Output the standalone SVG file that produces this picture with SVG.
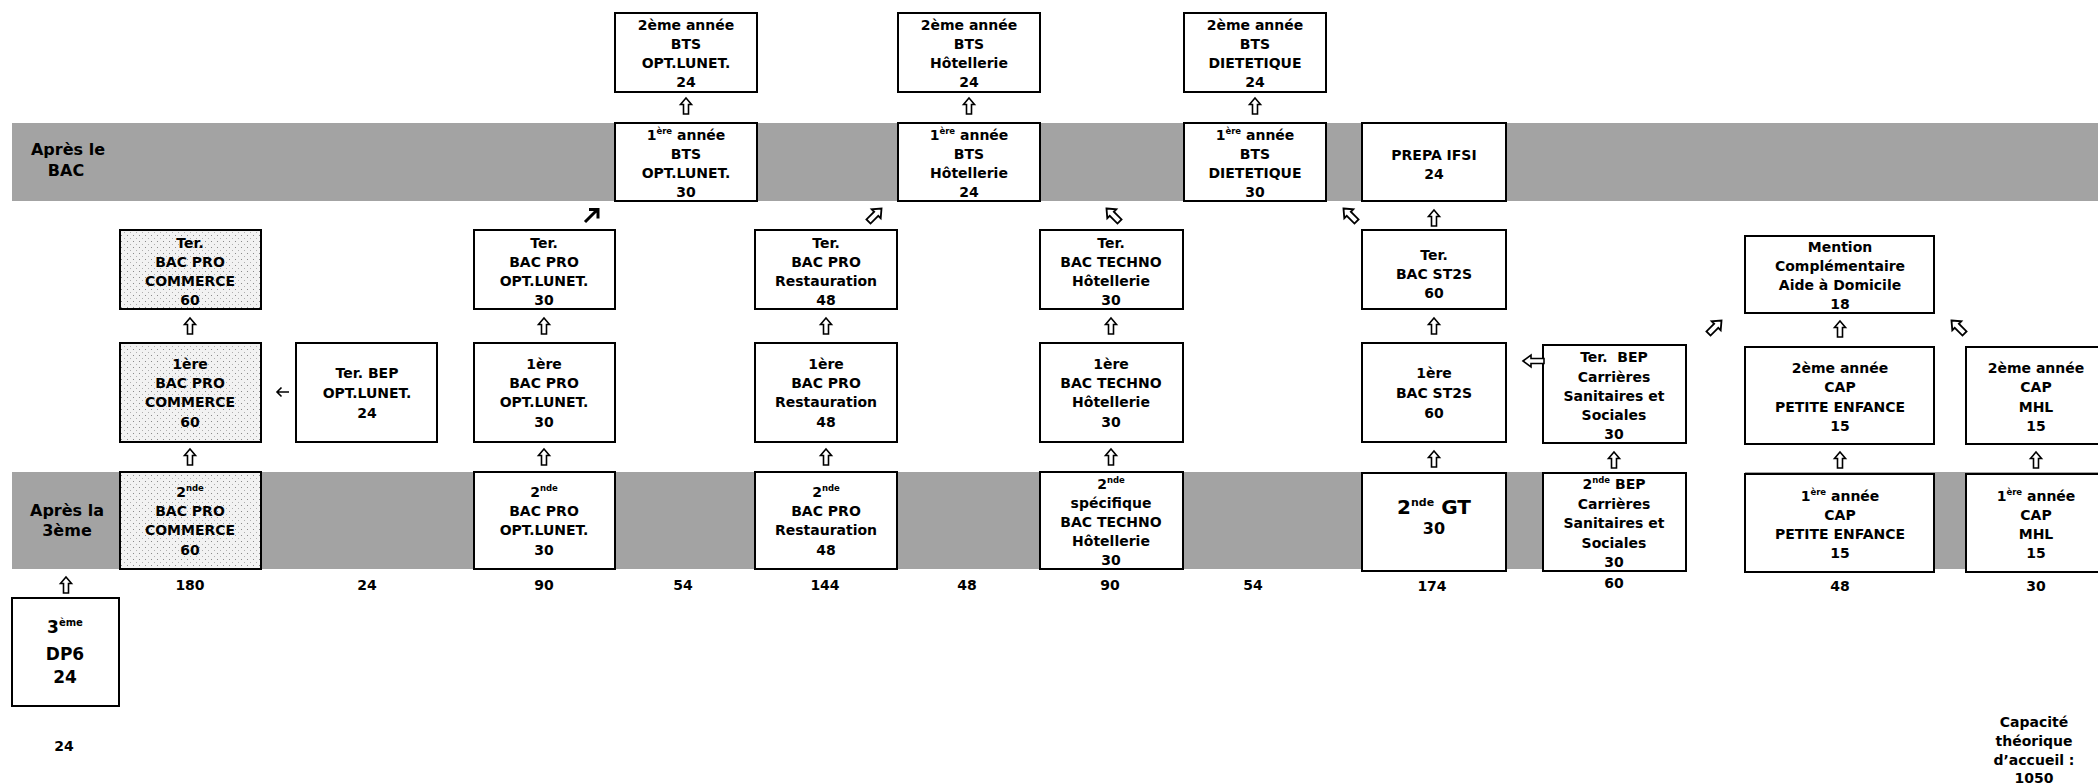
<svg xmlns="http://www.w3.org/2000/svg" width="2098" height="784" viewBox="0 0 2098 784">
<style>
text{font-family:"DejaVu Sans","Verdana",sans-serif;font-weight:bold;font-size:14px;fill:#000;text-anchor:middle}
.box{fill:#fff;stroke:#000;stroke-width:2}
.stip{fill:url(#stipple);stroke:#000;stroke-width:2}
.band{fill:#a3a3a3}
.sup{font-size:8.5px}
.big{font-size:17px}
.lbl{font-size:16px}
.harrow{fill:#fff;stroke:#000;stroke-width:1.6;stroke-linejoin:miter}
.thin{fill:none;stroke:#000;stroke-width:1.6}
.thick{fill:none;stroke:#000;stroke-width:3}
</style>
<defs>
<pattern id="stipple" width="6" height="6" patternUnits="userSpaceOnUse">
<rect width="6" height="6" fill="#f2f2f2"/>
<rect x="1" y="1" width="1" height="1" fill="#8a8a8a"/>
<rect x="4" y="4" width="1" height="1" fill="#b0b0b0"/>
</pattern>
<path id="up" class="harrow" d="M0,-8 L5.5,-1.5 L2.5,-1.5 L2.5,8 L-2.5,8 L-2.5,-1.5 L-5.5,-1.5 Z"/>
</defs>
<rect width="2098" height="784" fill="#fff"/>

<g id="bands">
<rect class="band" x="12" y="123" width="2086" height="78"/>
<rect class="band" x="12" y="472" width="1674" height="97"/>
<rect class="band" x="1745" y="472" width="353" height="97"/>
<text class="lbl" x="68" y="155">Après le</text>
<text class="lbl" x="66" y="176">BAC</text>
<text class="lbl" x="67" y="516">Après la</text>
<text class="lbl" x="67" y="536">3ème</text>
</g>

<g id="bts-opt-2">
<rect class="box" x="615" y="13" width="142" height="79"/>
<text><tspan x="686" y="30">2ème année</tspan><tspan x="686" y="49">BTS</tspan><tspan x="686" y="68">OPT.LUNET.</tspan><tspan x="686" y="87">24</tspan></text>
</g>
<g id="bts-hot-2">
<rect class="box" x="898" y="13" width="142" height="79"/>
<text><tspan x="969" y="30">2ème année</tspan><tspan x="969" y="49">BTS</tspan><tspan x="969" y="68">Hôtellerie</tspan><tspan x="969" y="87">24</tspan></text>
</g>
<g id="bts-diet-2">
<rect class="box" x="1184" y="13" width="142" height="79"/>
<text><tspan x="1255" y="30">2ème année</tspan><tspan x="1255" y="49">BTS</tspan><tspan x="1255" y="68">DIETETIQUE</tspan><tspan x="1255" y="87">24</tspan></text>
</g>

<g id="bts-opt-1">
<rect class="box" x="615" y="123" width="142" height="78"/>
<text x="686" y="140">1<tspan class="sup" dy="-6">ère</tspan><tspan dy="6"> année</tspan></text>
<text><tspan x="686" y="159">BTS</tspan><tspan x="686" y="178">OPT.LUNET.</tspan><tspan x="686" y="197">30</tspan></text>
</g>
<g id="bts-hot-1">
<rect class="box" x="898" y="123" width="142" height="78"/>
<text x="969" y="140">1<tspan class="sup" dy="-6">ère</tspan><tspan dy="6"> année</tspan></text>
<text><tspan x="969" y="159">BTS</tspan><tspan x="969" y="178">Hôtellerie</tspan><tspan x="969" y="197">24</tspan></text>
</g>
<g id="bts-diet-1">
<rect class="box" x="1184" y="123" width="142" height="78"/>
<text x="1255" y="140">1<tspan class="sup" dy="-6">ère</tspan><tspan dy="6"> année</tspan></text>
<text><tspan x="1255" y="159">BTS</tspan><tspan x="1255" y="178">DIETETIQUE</tspan><tspan x="1255" y="197">30</tspan></text>
</g>
<g id="prepa-ifsi">
<rect class="box" x="1362" y="123" width="144" height="78"/>
<text><tspan x="1434" y="160">PREPA IFSI</tspan><tspan x="1434" y="179">24</tspan></text>
</g>

<g id="ter-commerce">
<rect class="stip" x="120" y="230" width="141" height="79"/>
<text><tspan x="190" y="248">Ter.</tspan><tspan x="190" y="267">BAC PRO</tspan><tspan x="190" y="286">COMMERCE</tspan><tspan x="190" y="305">60</tspan></text>
</g>
<g id="ter-opt">
<rect class="box" x="474" y="230" width="141" height="79"/>
<text><tspan x="544" y="248">Ter.</tspan><tspan x="544" y="267">BAC PRO</tspan><tspan x="544" y="286">OPT.LUNET.</tspan><tspan x="544" y="305">30</tspan></text>
</g>
<g id="ter-resto">
<rect class="box" x="755" y="230" width="142" height="79"/>
<text><tspan x="826" y="248">Ter.</tspan><tspan x="826" y="267">BAC PRO</tspan><tspan x="826" y="286">Restauration</tspan><tspan x="826" y="305">48</tspan></text>
</g>
<g id="ter-techno">
<rect class="box" x="1040" y="230" width="143" height="79"/>
<text><tspan x="1111" y="248">Ter.</tspan><tspan x="1111" y="267">BAC TECHNO</tspan><tspan x="1111" y="286">Hôtellerie</tspan><tspan x="1111" y="305">30</tspan></text>
</g>
<g id="ter-st2s">
<rect class="box" x="1362" y="230" width="144" height="79"/>
<text><tspan x="1434" y="260">Ter.</tspan><tspan x="1434" y="279">BAC ST2S</tspan><tspan x="1434" y="298">60</tspan></text>
</g>
<g id="mention">
<rect class="box" x="1745" y="236" width="189" height="77"/>
<text><tspan x="1840" y="252">Mention</tspan><tspan x="1840" y="271">Complémentaire</tspan><tspan x="1840" y="290">Aide à Domicile</tspan><tspan x="1840" y="309">18</tspan></text>
</g>

<g id="pre-commerce">
<rect class="stip" x="120" y="343" width="141" height="99"/>
<text><tspan x="190" y="369">1ère</tspan><tspan x="190" y="388">BAC PRO</tspan><tspan x="190" y="407">COMMERCE</tspan><tspan x="190" y="427">60</tspan></text>
</g>
<g id="ter-bep-opt">
<rect class="box" x="296" y="343" width="141" height="99"/>
<text><tspan x="367" y="378">Ter. BEP</tspan><tspan x="367" y="398">OPT.LUNET.</tspan><tspan x="367" y="418">24</tspan></text>
</g>
<g id="pre-opt">
<rect class="box" x="474" y="343" width="141" height="99"/>
<text><tspan x="544" y="369">1ère</tspan><tspan x="544" y="388">BAC PRO</tspan><tspan x="544" y="407">OPT.LUNET.</tspan><tspan x="544" y="427">30</tspan></text>
</g>
<g id="pre-resto">
<rect class="box" x="755" y="343" width="142" height="99"/>
<text><tspan x="826" y="369">1ère</tspan><tspan x="826" y="388">BAC PRO</tspan><tspan x="826" y="407">Restauration</tspan><tspan x="826" y="427">48</tspan></text>
</g>
<g id="pre-techno">
<rect class="box" x="1040" y="343" width="143" height="99"/>
<text><tspan x="1111" y="369">1ère</tspan><tspan x="1111" y="388">BAC TECHNO</tspan><tspan x="1111" y="407">Hôtellerie</tspan><tspan x="1111" y="427">30</tspan></text>
</g>
<g id="pre-st2s">
<rect class="box" x="1362" y="343" width="144" height="99"/>
<text><tspan x="1434" y="378">1ère</tspan><tspan x="1434" y="398">BAC ST2S</tspan><tspan x="1434" y="418">60</tspan></text>
</g>
<g id="ter-bep-css">
<rect class="box" x="1543" y="345" width="143" height="98"/>
<text xml:space="preserve"><tspan x="1614" y="362">Ter.  BEP</tspan><tspan x="1614" y="382">Carrières</tspan><tspan x="1614" y="401">Sanitaires et</tspan><tspan x="1614" y="420">Sociales</tspan><tspan x="1614" y="439">30</tspan></text>
</g>
<g id="cap-pe-2">
<rect class="box" x="1745" y="347" width="189" height="97"/>
<text><tspan x="1840" y="373">2ème année</tspan><tspan x="1840" y="392">CAP</tspan><tspan x="1840" y="412">PETITE ENFANCE</tspan><tspan x="1840" y="431">15</tspan></text>
</g>
<g id="cap-mhl-2">
<rect class="box" x="1966" y="347" width="142" height="97"/>
<text><tspan x="2036" y="373">2ème année</tspan><tspan x="2036" y="392">CAP</tspan><tspan x="2036" y="412">MHL</tspan><tspan x="2036" y="431">15</tspan></text>
</g>

<g id="sec-commerce">
<rect class="stip" x="120" y="472" width="141" height="97"/>
<text x="190" y="497">2<tspan class="sup" dy="-6">nde</tspan></text>
<text><tspan x="190" y="516">BAC PRO</tspan><tspan x="190" y="535">COMMERCE</tspan><tspan x="190" y="555">60</tspan></text>
</g>
<g id="sec-opt">
<rect class="box" x="474" y="472" width="141" height="97"/>
<text x="544" y="497">2<tspan class="sup" dy="-6">nde</tspan></text>
<text><tspan x="544" y="516">BAC PRO</tspan><tspan x="544" y="535">OPT.LUNET.</tspan><tspan x="544" y="555">30</tspan></text>
</g>
<g id="sec-resto">
<rect class="box" x="755" y="472" width="142" height="97"/>
<text x="826" y="497">2<tspan class="sup" dy="-6">nde</tspan></text>
<text><tspan x="826" y="516">BAC PRO</tspan><tspan x="826" y="535">Restauration</tspan><tspan x="826" y="555">48</tspan></text>
</g>
<g id="sec-techno">
<rect class="box" x="1040" y="472" width="143" height="97"/>
<text x="1111" y="489">2<tspan class="sup" dy="-6">nde</tspan></text>
<text><tspan x="1111" y="508">spécifique</tspan><tspan x="1111" y="527">BAC TECHNO</tspan><tspan x="1111" y="546">Hôtellerie</tspan><tspan x="1111" y="565">30</tspan></text>
</g>
<g id="sec-gt">
<rect class="box" x="1362" y="473" width="144" height="98"/>
<text x="1434" y="514" style="font-size:20px">2<tspan style="font-size:11px" dy="-8">nde</tspan><tspan dy="8"> GT</tspan></text>
<text x="1434" y="534" style="font-size:16px">30</text>
</g>
<g id="sec-bep-css">
<rect class="box" x="1543" y="473" width="143" height="98"/>
<text x="1614" y="489">2<tspan class="sup" dy="-6">nde</tspan><tspan dy="6"> BEP</tspan></text>
<text><tspan x="1614" y="509">Carrières</tspan><tspan x="1614" y="528">Sanitaires et</tspan><tspan x="1614" y="548">Sociales</tspan><tspan x="1614" y="567">30</tspan></text>
</g>
<g id="cap-pe-1">
<rect class="box" x="1745" y="474" width="189" height="98"/>
<text x="1840" y="501">1<tspan class="sup" dy="-6">ère</tspan><tspan dy="6"> année</tspan></text>
<text><tspan x="1840" y="520">CAP</tspan><tspan x="1840" y="539">PETITE ENFANCE</tspan><tspan x="1840" y="558">15</tspan></text>
</g>
<g id="cap-mhl-1">
<rect class="box" x="1966" y="474" width="142" height="98"/>
<text x="2036" y="501">1<tspan class="sup" dy="-6">ère</tspan><tspan dy="6"> année</tspan></text>
<text><tspan x="2036" y="520">CAP</tspan><tspan x="2036" y="539">MHL</tspan><tspan x="2036" y="558">15</tspan></text>
</g>

<g id="troisieme-dp6">
<rect class="box" x="12" y="598" width="107" height="108"/>
<text class="big" x="65" y="633">3<tspan style="font-size:10px" dy="-7">ème</tspan></text>
<text class="big"><tspan x="65" y="660">DP6</tspan><tspan x="65" y="683">24</tspan></text>
</g>

<g id="counts">
<text x="190" y="590">180</text>
<text x="367" y="590">24</text>
<text x="544" y="590">90</text>
<text x="683" y="590">54</text>
<text x="825" y="590">144</text>
<text x="967" y="590">48</text>
<text x="1110" y="590">90</text>
<text x="1253" y="590">54</text>
<text x="1432" y="591">174</text>
<text x="1614" y="588">60</text>
<text x="1840" y="591">48</text>
<text x="2036" y="591">30</text>
<text x="64" y="751">24</text>
</g>

<g id="capacite">
<text><tspan x="2034" y="727">Capacité</tspan><tspan x="2034" y="746">théorique</tspan><tspan x="2034" y="765">d’accueil :</tspan><tspan x="2034" y="783">1050</tspan></text>
</g>

<g id="connectors">
<use href="#up" x="686" y="106"/>
<use href="#up" x="969" y="106"/>
<use href="#up" x="1255" y="106"/>
<use href="#up" x="1434" y="218"/>
<use href="#up" x="190" y="326"/>
<use href="#up" x="544" y="326"/>
<use href="#up" x="826" y="326"/>
<use href="#up" x="1111" y="326"/>
<use href="#up" x="1434" y="326"/>
<use href="#up" x="1840" y="329"/>
<use href="#up" x="190" y="457"/>
<use href="#up" x="544" y="457"/>
<use href="#up" x="826" y="457"/>
<use href="#up" x="1111" y="457"/>
<use href="#up" x="1434" y="459"/>
<use href="#up" x="1614" y="460"/>
<use href="#up" x="1840" y="460"/>
<use href="#up" x="2036" y="460"/>
<use href="#up" x="66" y="585"/>
<use href="#up" transform="translate(875,215) rotate(45) scale(1.15)"/>
<use href="#up" transform="translate(1113,215) rotate(-45) scale(1.15)"/>
<use href="#up" transform="translate(1350,215) rotate(-45) scale(1.15)"/>
<use href="#up" transform="translate(1715,327) rotate(45) scale(1.15)"/>
<use href="#up" transform="translate(1958,327) rotate(-45) scale(1.15)"/>
<path class="harrow" d="M1523,361 L1531,355 L1531,358.5 L1544,358.5 L1544,363.5 L1531,363.5 L1531,367 Z"/>
<path class="thick" d="M585,222 L597,210 M589,209.5 L598,209.5 L598,218.5"/>
<path class="thin" d="M289,392 L277,392 M281.5,387.5 L277,392 L281.5,396.5"/>
</g>
</svg>
